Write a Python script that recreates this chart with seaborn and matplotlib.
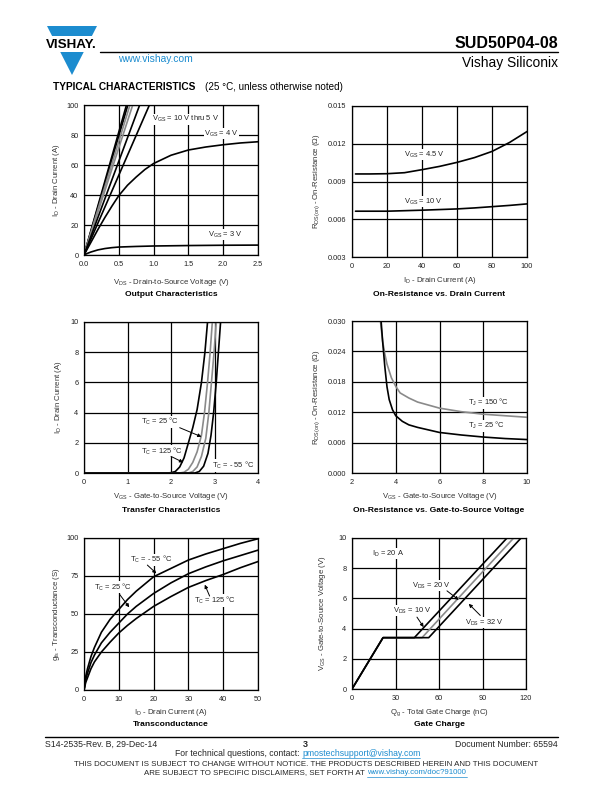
import numpy as np
import pandas as pd
import matplotlib
matplotlib.use("Agg")
import matplotlib.pyplot as plt
from matplotlib.patches import Polygon
import seaborn as sns

# ---------------- data ----------------
# Output characteristics
bundle_vds_end = [0.61, 0.63, 0.66, 0.70, 0.80, 0.94]   # VDS where ID reaches 100 A (VGS 10 V thru 5 V)
bundle_colors = ["k", "k", "gray", "gray", "k", "k"]
vds_4v = [0, 0.1, 0.2, 0.3, 0.4, 0.5, 0.625, 0.75, 0.875, 1.0, 1.25, 1.5, 1.75, 2.0, 2.25, 2.5]
id_4v = [0, 8.5, 17, 25, 32.5, 39.6, 46.5, 52, 57, 61, 66.5, 70, 72, 73.5, 74.7, 75.5]
vds_3v = [0, 0.05, 0.1, 0.2, 0.3, 0.4, 0.5, 0.75, 1.0, 1.5, 2.0, 2.5]
id_3v = [0, 1.1, 2.0, 3.4, 4.3, 4.9, 5.3, 5.7, 6.0, 6.3, 6.5, 6.6]

# On-resistance vs drain current
id_r = [2, 10, 20, 30, 40, 50, 60, 70, 80, 90, 100]
r_45 = [0.0096, 0.0096, 0.00962, 0.0097, 0.00994, 0.0102, 0.01052, 0.0109, 0.01139, 0.0121, 0.01297]
r_10 = [0.00664, 0.00664, 0.00664, 0.00668, 0.00672, 0.00677, 0.00682, 0.0069, 0.0070, 0.0071, 0.00722]

# Transfer characteristics
vgs_125 = [0, 1.9, 2.0, 2.1, 2.2, 2.3, 2.4, 2.5, 2.6, 2.7, 2.78, 2.84]
id_125 = [0, 0, 0.02, 0.1, 0.4, 1.0, 2.0, 3.0, 4.2, 6.0, 8.0, 10]
vgs_25 = [0, 2.2, 2.3, 2.4, 2.5, 2.6, 2.7, 2.77, 2.84, 2.9, 2.95]
id_25 = [0, 0, 0.05, 0.25, 0.7, 1.4, 2.5, 4.0, 6.0, 8.0, 10]
vgs_25b = [0, 2.4, 2.5, 2.6, 2.7, 2.8, 2.87, 2.93, 2.99, 3.04]
id_25b = [0, 0, 0.1, 0.4, 1.1, 2.3, 4.0, 6.0, 8.0, 10]
vgs_m55 = [0, 2.55, 2.65, 2.75, 2.85, 2.92, 2.98, 3.04, 3.09, 3.14]
id_m55 = [0, 0, 0.1, 0.45, 1.3, 2.5, 4.0, 6.0, 8.0, 10]

# On-resistance vs gate-to-source voltage
vgs_r150 = [3.3, 3.4, 3.5, 3.6, 3.8, 4.0, 4.2, 4.6, 5.0, 6.0, 7.0, 8.0, 9.0, 10.0]
r_150 = [0.030, 0.026, 0.0235, 0.0215, 0.0188, 0.0171, 0.0158, 0.0148, 0.0140, 0.0128, 0.0121, 0.0116, 0.0113, 0.0110]
vgs_r25 = [3.33, 3.4, 3.5, 3.6, 3.7, 3.85, 4.0, 4.3, 4.6, 5.0, 6.0, 7.0, 8.0, 9.0, 10.0]
r_25 = [0.030, 0.026, 0.021, 0.017, 0.0145, 0.0125, 0.0113, 0.0102, 0.0095, 0.0090, 0.0080, 0.0075, 0.0071, 0.0068, 0.0066]

# Transconductance
id_g = [0, 0.5, 1, 2, 3, 5, 7.5, 10, 12.5, 15, 20, 25, 30, 35, 40, 45, 50]
gfs_m55 = [0, 9, 14, 22, 28, 38, 46.5, 53, 59.5, 65, 74.5, 80, 85.5, 89.5, 93, 96.5, 99.5]
gfs_25 = [0, 7, 11, 18, 23, 31, 38, 44, 50, 55, 63.5, 70.5, 76.5, 81, 85, 88.5, 92]
gfs_125 = [0, 5, 8, 14, 18.5, 25, 31.5, 37.5, 42.5, 47, 55, 61.5, 67.5, 72, 76, 80.5, 84.5]

# Gate charge
qg_10 = [0, 21.4, 43.0, 106.9]
qg_20 = [0, 21.4, 48.3, 111.5]
qg_32 = [0, 21.4, 52.9, 116.6]
vgs_qg = [0, 3.4, 3.4, 10]

# ---------------- style ----------------
sns.set_style("white")
plt.rcParams["font.family"] = ["Liberation Sans", "DejaVu Sans"]
plt.rcParams["mathtext.fontset"] = "custom"
plt.rcParams["mathtext.rm"] = "Liberation Sans"
plt.rcParams["mathtext.it"] = "Liberation Sans:italic"

W, H = 612, 792
fig = plt.figure(figsize=(6.12, 7.92), dpi=100)
bg = fig.add_axes([0, 0, 1, 1])
bg.set_xlim(0, W)
bg.set_ylim(H, 0)
bg.axis("off")

TXT = "#222222"
GRAY = "#8a8a8a"
BLUE = "#1c8ccf"


def mk_ax(l, t, r, b):
    return fig.add_axes([l / W, 1 - b / H, (r - l) / W, (b - t) / H])


def style(ax, xlim, ylim, xt, yt, xl, yl, xfmt, yfmt, xlab_y, ylab_x):
    ax.set_xlim(*xlim)
    ax.set_ylim(*ylim)
    ax.set_xticks(xt)
    ax.set_yticks(yt)
    ax.set_xticklabels([xfmt.format(v) for v in xt])
    ax.set_yticklabels([yfmt.format(v) for v in yt])
    ax.grid(True, color="black", lw=0.9)
    ax.set_axisbelow(True)
    for s in ax.spines.values():
        s.set_color("black")
        s.set_linewidth(0.9)
        s.set_visible(True)
    ax.tick_params(length=0, labelsize=5.3, labelcolor=TXT, pad=4)
    ax.set_xlabel(xl, fontsize=5.6, color="#333333")
    ax.set_ylabel(yl, fontsize=5.6, color="#333333")
    ax.xaxis.set_label_coords(0.5, xlab_y)
    ax.yaxis.set_label_coords(ylab_x, 0.5)


def lab(ax, x, y, s, ha="left"):
    ax.text(x, y, s, fontsize=5.4, color=TXT, ha=ha, va="center",
            bbox=dict(facecolor="white", edgecolor="none", pad=0.3), zorder=5)


def arrow(ax, tail, tip):
    ax.annotate("", xy=tip, xytext=tail,
                arrowprops=dict(arrowstyle="-|>", color="black", lw=0.7,
                                mutation_scale=5, shrinkA=0, shrinkB=0), zorder=6)


def draw(ax, curves):
    rows = []
    pal = {}
    for name, xs, ys, col in curves:
        for a, b in zip(xs, ys):
            rows.append((name, a, b))
        pal[name] = col
    df = pd.DataFrame(rows, columns=["c", "x", "y"])
    sns.lineplot(data=df, x="x", y="y", hue="c", palette=pal, estimator=None,
                 sort=False, legend=False, lw=1.2, ax=ax)


# ---------- 1. Output characteristics ----------
ax1 = mk_ax(84, 105, 258, 255)
curves = []
for i, (e, c) in enumerate(zip(bundle_vds_end, bundle_colors)):
    curves.append((f"b{i}", [0, e], [0, 100], "black" if c == "k" else GRAY))
curves.append(("v4", vds_4v, id_4v, "black"))
curves.append(("v3", vds_3v, id_3v, "black"))
draw(ax1, curves)
style(ax1, (0, 2.5), (0, 100), [0, 0.5, 1.0, 1.5, 2.0, 2.5], [0, 20, 40, 60, 80, 100],
      r"V$_{\mathrm{DS}}$ - Drain-to-Source Voltage (V)", r"I$_{\mathrm{D}}$ - Drain Current (A)",
      "{:.1f}", "{:.0f}", -0.145, -0.125)
lab(ax1, 0.98, 90.5, r"V$_{\mathrm{GS}}$ = 10 V thru 5 V")
lab(ax1, 1.73, 81, r"V$_{\mathrm{GS}}$ = 4 V")
lab(ax1, 1.78, 13.7, r"V$_{\mathrm{GS}}$ = 3 V")

# ---------- 2. On-resistance vs drain current ----------
ax2 = mk_ax(352, 106, 527, 257)
draw(ax2, [("r45", id_r, r_45, "black"), ("r10", id_r, r_10, "black")])
style(ax2, (0, 100), (0.003, 0.015), [0, 20, 40, 60, 80, 100], [0.003, 0.006, 0.009, 0.012, 0.015],
      r"I$_{\mathrm{D}}$ - Drain Current (A)", r"R$_{\mathrm{DS(on)}}$ - On-Resistance ($\Omega$)",
      "{:.0f}", "{:.3f}", -0.12, -0.17)
lab(ax2, 30, 0.01115, r"V$_{\mathrm{GS}}$ = 4.5 V")
lab(ax2, 30, 0.0074, r"V$_{\mathrm{GS}}$ = 10 V")

# ---------- 3. Transfer characteristics ----------
ax3 = mk_ax(84, 322, 258, 473)
draw(ax3, [("t125", vgs_125, id_125, "black"), ("t25", vgs_25, id_25, GRAY),
           ("t25b", vgs_25b, id_25b, GRAY), ("tm55", vgs_m55, id_m55, "black")])
style(ax3, (0, 4), (0, 10), [0, 1, 2, 3, 4], [0, 2, 4, 6, 8, 10],
      r"V$_{\mathrm{GS}}$ - Gate-to-Source Voltage (V)", r"I$_{\mathrm{D}}$ - Drain Current (A)",
      "{:.0f}", "{:.0f}", -0.12, -0.115)
lab(ax3, 1.3, 3.4, r"T$_{\mathrm{C}}$ = 25 °C")
lab(ax3, 1.3, 1.45, r"T$_{\mathrm{C}}$ = 125 °C")
lab(ax3, 2.95, 0.5, r"T$_{\mathrm{C}}$ = - 55 °C")
arrow(ax3, (2.2, 3.0), (2.7, 2.4))
arrow(ax3, (2.0, 1.1), (2.28, 0.7))

# ---------- 4. On-resistance vs VGS ----------
ax4 = mk_ax(352, 321, 527, 473)
draw(ax4, [("r150", vgs_r150, r_150, GRAY), ("r25", vgs_r25, r_25, "black")])
style(ax4, (2, 10), (0, 0.030), [2, 4, 6, 8, 10], [0, 0.006, 0.012, 0.018, 0.024, 0.030],
      r"V$_{\mathrm{GS}}$ - Gate-to-Source Voltage (V)", r"R$_{\mathrm{DS(on)}}$ - On-Resistance ($\Omega$)",
      "{:.0f}", "{:.3f}", -0.12, -0.17)
lab(ax4, 7.3, 0.0139, r"T$_{\mathrm{J}}$ = 150 °C")
lab(ax4, 7.3, 0.0093, r"T$_{\mathrm{J}}$ = 25 °C")

# ---------- 5. Transconductance ----------
ax5 = mk_ax(84, 538, 258, 690)
draw(ax5, [("g1", id_g, gfs_m55, "black"), ("g2", id_g, gfs_25, "black"), ("g3", id_g, gfs_125, "black")])
style(ax5, (0, 50), (0, 100), [0, 10, 20, 30, 40, 50], [0, 25, 50, 75, 100],
      r"I$_{\mathrm{D}}$ - Drain Current (A)", r"g$_{\mathrm{fs}}$ - Transconductance (S)",
      "{:.0f}", "{:.0f}", -0.11, -0.125)
lab(ax5, 13.3, 85.6, r"T$_{\mathrm{C}}$ = - 55 °C")
lab(ax5, 3.0, 67.5, r"T$_{\mathrm{C}}$ = 25 °C")
lab(ax5, 31.5, 58.9, r"T$_{\mathrm{C}}$ = 125 °C")
arrow(ax5, (18.2, 82.2), (20.8, 76.7))
arrow(ax5, (10.3, 62.7), (13.0, 54.4))
arrow(ax5, (36.1, 61.8), (34.7, 69.3))

# ---------- 6. Gate charge ----------
ax6 = mk_ax(352, 538, 526, 689)
draw(ax6, [("q20", qg_20, vgs_qg, GRAY), ("q32", qg_32, vgs_qg, "black"), ("q10", qg_10, vgs_qg, "black")])
style(ax6, (0, 120), (0, 10), [0, 30, 60, 90, 120], [0, 2, 4, 6, 8, 10],
      r"Q$_{\mathrm{g}}$ - Total Gate Charge (nC)", r"V$_{\mathrm{GS}}$ - Gate-to-Source Voltage (V)",
      "{:.0f}", "{:.0f}", -0.12, -0.14)
lab(ax6, 28, 5.2, r"V$_{\mathrm{DS}}$ = 10 V")
lab(ax6, 41.5, 6.86, r"V$_{\mathrm{DS}}$ = 20 V")
lab(ax6, 78, 4.4, r"V$_{\mathrm{DS}}$ = 32 V")
lab(ax6, 14, 8.96, r"I$_{\mathrm{D}}$ = 20 A")
arrow(ax6, (44.8, 4.76), (49.4, 4.1))
arrow(ax6, (65.5, 6.5), (73.6, 5.9))
arrow(ax6, (88.5, 4.87), (80.5, 5.64))

# ---------- chart titles ----------
for x, y, s in [(171, 294, "Output Characteristics"), (439, 294, "On-Resistance vs. Drain Current"),
                (171, 510, "Transfer Characteristics"), (439, 510, "On-Resistance vs. Gate-to-Source Voltage"),
                (171, 725, "Transconductance"), (439, 725, "Gate Charge")]:
    bg.text(x, y, s, fontsize=6.1, fontweight="bold", ha="center", va="center", color="black")


# ---------- header ----------
def lx(y):
    return 47 + 25 * (y - 26) / 49


def rx(y):
    return 97 - 25 * (y - 26) / 49


bg.add_patch(Polygon([(47, 26), (97, 26), (rx(36), 36), (lx(36), 36)], closed=True, color=BLUE, lw=0))
bg.add_patch(Polygon([(lx(52), 52), (rx(52), 52), (72, 75)], closed=True, color=BLUE, lw=0))
bg.text(71.5, 44.5, "VISHAY.", fontsize=9.6, fontweight="bold", ha="center", va="center", color="black")
bg.plot([100, 558], [52, 52], color="black", lw=1.0)
bg.text(558, 43, "SUD50P04-08", fontsize=11.5, fontweight="bold", ha="right", va="center", color="black")
bg.text(558, 62.5, "Vishay Siliconix", fontsize=9.9, ha="right", va="center", color="black")
bg.text(118, 59, "www.vishay.com", fontsize=7.4, ha="left", va="center", color=BLUE)
bg.text(53, 87, "TYPICAL CHARACTERISTICS", fontsize=7.3, fontweight="bold", ha="left", va="center", color="black")
bg.text(205, 87, "(25 °C, unless otherwise noted)", fontsize=7.1, ha="left", va="center", color="black")

# ---------- footer ----------
bg.plot([45, 558], [737, 737], color="black", lw=1.0)
bg.text(45, 744.5, "S14-2535-Rev. B, 29-Dec-14", fontsize=6.3, ha="left", va="center")
bg.text(305, 744.5, "3", fontsize=6.5, fontweight="bold", ha="center", va="center")
bg.text(558, 744.5, "Document Number: 65594", fontsize=6.3, ha="right", va="center")
bg.text(302, 753.5, "For technical questions, contact: ", fontsize=6.2, ha="right", va="center")
bg.text(302, 753.5, "pmostechsupport@vishay.com", fontsize=6.2, ha="left", va="center", color=BLUE)
bg.plot([302, 420], [757.5, 757.5], color=BLUE, lw=0.5)
bg.text(306, 764, "THIS DOCUMENT IS SUBJECT TO CHANGE WITHOUT NOTICE. THE PRODUCTS DESCRIBED HEREIN AND THIS DOCUMENT",
        fontsize=5.7, ha="center", va="center")
bg.text(367, 773, "ARE SUBJECT TO SPECIFIC DISCLAIMERS, SET FORTH AT ", fontsize=5.7, ha="right", va="center")
bg.text(367, 773, "www.vishay.com/doc?91000", fontsize=5.7, ha="left", va="center", color=BLUE)
bg.plot([367, 467], [777, 777], color=BLUE, lw=0.5)

fig.savefig("out.png", dpi=100)
